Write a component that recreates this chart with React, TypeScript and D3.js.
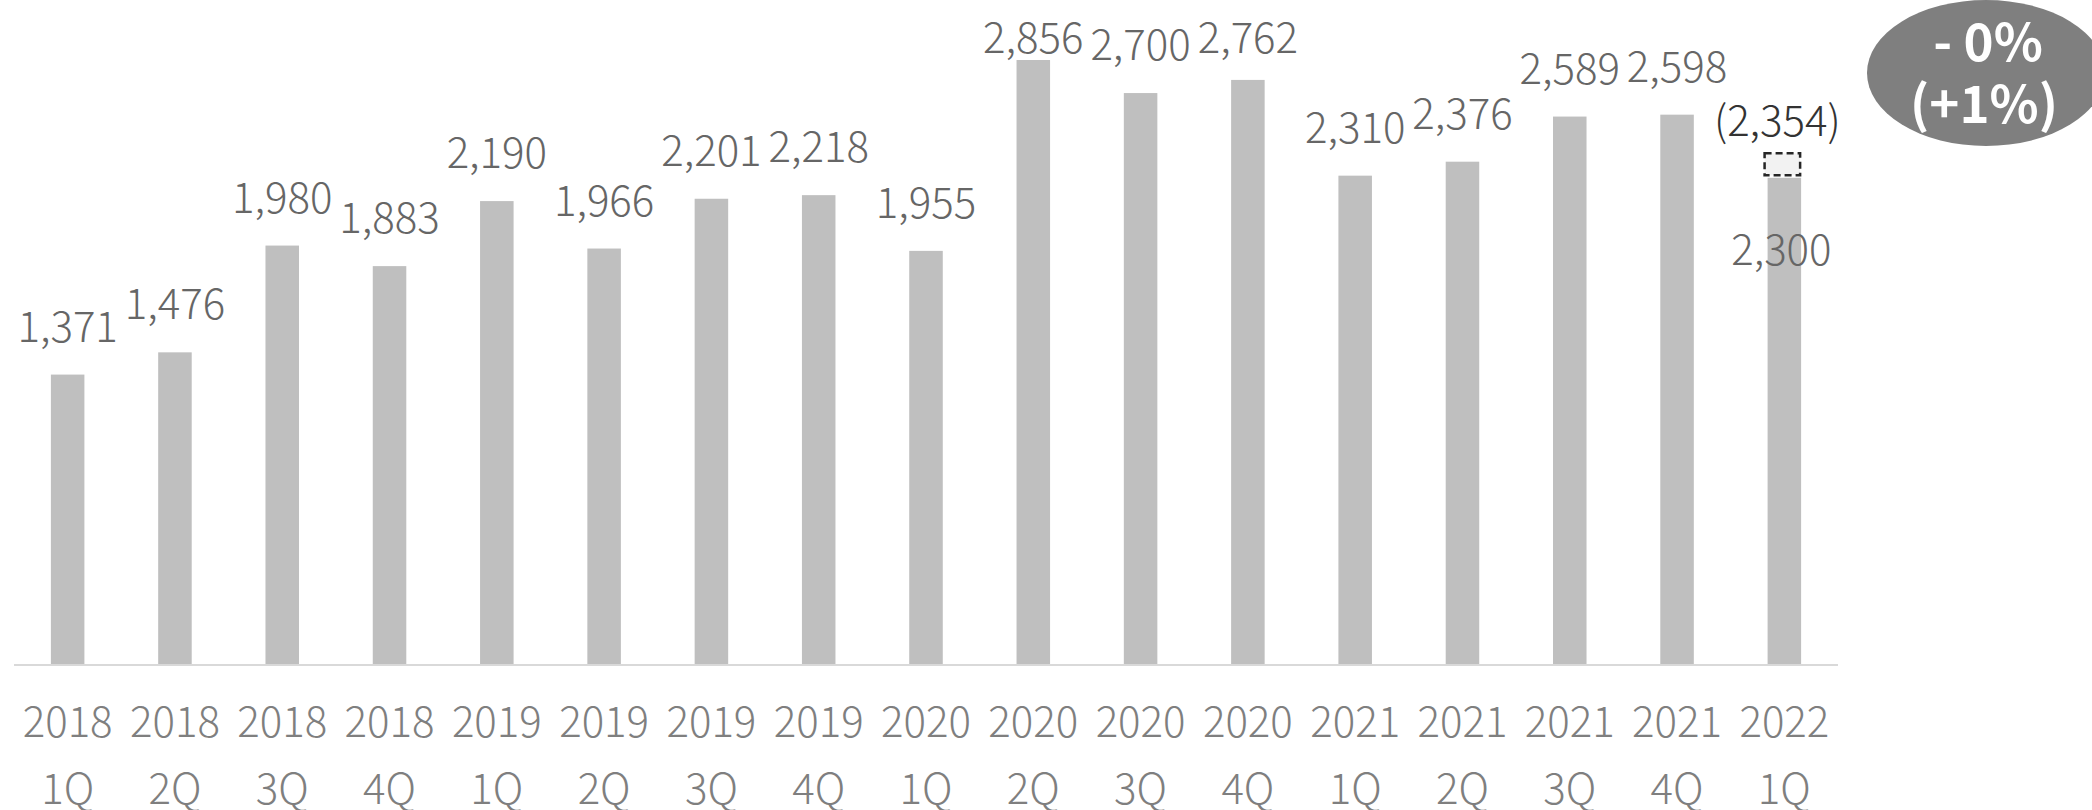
import React from "react";
import * as d3 from "d3";

const years = ["2018", "2018", "2018", "2018", "2019", "2019", "2019", "2019", "2020", "2020", "2020", "2020", "2021", "2021", "2021", "2021", "2022"];
const quarters = ["1Q", "2Q", "3Q", "4Q", "1Q", "2Q", "3Q", "4Q", "1Q", "2Q", "3Q", "4Q", "1Q", "2Q", "3Q", "4Q", "1Q"];
const values = [1371, 1476, 1980, 1883, 2190, 1966, 2201, 2218, 1955, 2856, 2700, 2762, 2310, 2376, 2589, 2598, 2300];
const forecastValue = 2354;
const bubbleLines = ["- 0%", "(+1%)"];

const W = 2092;
const H = 810;
const FONT = "'Noto Sans CJK JP', 'Noto Sans', sans-serif";

export default function App() {
  const keys = values.map((_, i) => `${years[i]} ${quarters[i]}`);
  const x = d3.scaleBand<string>().domain(keys).range([14, 1838]).paddingInner(0.6875).paddingOuter(0.34375);
  const y = d3.scaleLinear().domain([0, 3000]).range([665, 29.5]);
  const fmt = d3.format(",");
  const bw = x.bandwidth();
  const last = values.length - 1;

  return (
    <svg width={W} height={H} style={{ position: "absolute", left: 0, top: 0, background: "#fff" }} fontFamily={FONT}>
      {values.map((v, i) => {
        const bx = x(keys[i])!;
        const cx = bx + bw / 2;
        const isLast = i === last;
        return (
          <g key={i}>
            <rect x={bx} y={y(v)} width={bw} height={y(0) - y(v)} fill="#bfbfbf" />
            {isLast ? (
              <text x={cx - 3} y={y(v) + 87} textAnchor="middle" fontSize={42} fontWeight={300} fill="#666666">
                {fmt(v)}
              </text>
            ) : (
              <text x={cx} y={Math.max(y(v) - 33, 53)} textAnchor="middle" fontSize={42} fontWeight={300} fill="#666666">
                {fmt(v)}
              </text>
            )}
            <text x={cx} y={737} textAnchor="middle" fontSize={42} fontWeight={300} fill="#7f7f7f">
              {years[i]}
            </text>
            <text x={cx} y={804} textAnchor="middle" fontSize={42} fontWeight={300} fill="#7f7f7f">
              {quarters[i]}
            </text>
          </g>
        );
      })}
      <line x1={14} x2={1838} y1={665} y2={665} stroke="#d9d9d9" strokeWidth={2} />
      {(() => {
        const bx = x(keys[last])!;
        const cx = bx + bw / 2;
        const top = y(forecastValue) - 13;
        const bottom = y(values[last]) - 2.5;
        return (
          <g>
            <rect x={bx - 3} y={top} width={bw + 2} height={bottom - top} fill="#f2f2f2" stroke="#262626" strokeWidth={2.5} strokeDasharray="7,4" />
            <text x={cx - 7} y={top - 17} textAnchor="middle" fontSize={42} fontWeight={300} fill="#333333">
              {`(${fmt(forecastValue)})`}
            </text>
          </g>
        );
      })()}
      <ellipse cx={1986} cy={73} rx={119} ry={73} fill="#7f7f7f" />
      <text x={1988} y={61} textAnchor="middle" fontSize={51} fontWeight={700} fill="#ffffff">
        {bubbleLines[0]}
      </text>
      <text x={1984} y={123} textAnchor="middle" fontSize={51} fontWeight={700} fill="#ffffff">
        {bubbleLines[1]}
      </text>
    </svg>
  );
}
